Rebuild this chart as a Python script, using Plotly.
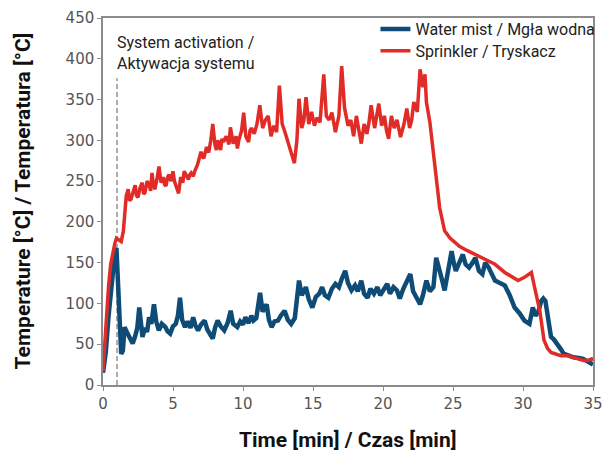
import plotly.graph_objects as go

# ---- data ----
sprinkler_t = [0, 0.1, 0.25, 0.4, 0.55, 0.7, 0.85, 0.96, 1.1, 1.3, 1.45, 1.55, 1.66, 1.8, 1.9, 2.0, 2.15, 2.3, 2.4,
               2.5, 2.65, 2.8, 2.9, 3.0, 3.15, 3.3, 3.4, 3.5, 3.6, 3.7, 3.85, 4.0, 4.15, 4.3, 4.4, 4.5, 4.6, 4.7,
               4.85, 5.0, 5.1, 5.2, 5.3, 5.4, 5.55, 5.7, 5.8, 5.9, 6.1, 6.2, 6.3, 6.45, 6.55, 6.75, 7.0, 7.1, 7.2,
               7.4, 7.55, 7.7, 7.84, 8.0, 8.1, 8.2, 8.4, 8.5, 8.6, 8.8, 9.0, 9.1, 9.3, 9.5, 9.6, 9.7, 9.9,
               10.05, 10.2, 10.4, 10.5, 10.6, 10.8, 11.0, 11.2, 11.4, 11.6, 11.8, 12.0, 12.2, 12.4, 12.6, 12.8, 13.0,
               13.2, 13.4, 13.67, 13.85, 14.0, 14.2, 14.35, 14.5, 14.7, 14.9, 15.1, 15.3, 15.5, 15.77, 15.95, 16.15,
               16.35, 16.6, 16.85, 17.05, 17.25, 17.5, 17.7, 17.9, 18.1, 18.3, 18.45, 18.65, 18.85, 19.0, 19.15,
               19.4, 19.55, 19.7, 19.9, 20.1, 20.25, 20.4, 20.6, 20.8, 21.0, 21.25, 21.5, 21.7, 21.9, 22.05, 22.2,
               22.45, 22.65, 22.85, 23.0, 23.1, 23.35, 23.7, 24.05, 24.4, 24.8, 25.2, 25.45, 26.0, 26.6, 27.3, 28.0,
               28.7, 29.2, 29.65, 30.1, 30.6, 30.8, 31.0, 31.2, 31.5, 31.75, 32.0, 32.4, 32.7, 33.2, 33.6, 34.0,
               34.3, 34.6, 34.9, 35]
sprinkler_temp = [17, 45, 88, 122, 148, 163, 174, 180, 178, 176, 188, 205, 232, 240, 226, 228, 238, 245, 232,
                  230, 242, 248, 234, 236, 250, 245, 238, 260, 246, 240, 252, 268, 248, 255, 246, 244, 254, 258,
                  250, 262, 250, 245, 240, 235, 255, 248, 262, 258, 252, 258, 260, 256, 262, 270, 286, 280, 278,
                  292, 285, 300, 320, 294, 288, 300, 288, 302, 298, 305, 295, 316, 296, 305, 290, 300, 312,
                  334, 305, 298, 312, 315, 308, 320, 343, 315, 325, 330, 305, 318, 310, 367, 320, 310,
                  298, 285, 272, 300, 351, 315, 325, 353, 320, 335, 318, 328, 322, 381, 330, 325,
                  334, 310, 330, 391, 340, 318, 325, 305, 330, 310, 296, 320, 308, 322, 343,
                  315, 330, 345, 318, 330, 312, 302, 330, 315, 325, 304, 320, 339, 315, 325, 347,
                  335, 387, 365, 381, 347, 322, 266, 217, 189, 180, 174, 170, 165, 160, 155, 148,
                  138, 133, 128, 132, 138, 122, 105, 91, 55, 45, 40, 38, 36, 36, 34, 31,
                  30, 30, 32, 30]

mist_t = [0, 0.2, 0.4, 0.55, 0.72, 0.85, 0.96, 1.07, 1.19, 1.3, 1.42, 1.54, 1.7, 1.89, 2.0, 2.12, 2.3, 2.45, 2.59, 2.7,
          2.82, 3.0, 3.15, 3.29, 3.45, 3.64, 3.8, 3.99, 4.2, 4.46, 4.6, 4.8, 5.0, 5.2, 5.35, 5.5, 5.65, 5.86, 6.05,
          6.25, 6.44, 6.6, 6.79, 7.0, 7.26, 7.45, 7.65, 7.84, 8.0, 8.19, 8.4, 8.66, 8.9, 9.12, 9.3, 9.59, 9.8, 10.0,
          10.17, 10.4, 10.6, 10.75, 10.95, 11.22, 11.4, 11.69, 11.85, 12.04, 12.25, 12.5, 12.7, 12.97, 13.2, 13.44,
          13.7, 14.0, 14.2, 14.49, 14.7, 14.95, 15.2, 15.45, 15.65, 15.85, 16.1, 16.35, 16.6, 16.85, 17.05, 17.3,
          17.5, 17.75, 18.0, 18.2, 18.45, 18.65, 18.9, 19.1, 19.35, 19.6, 19.8, 20.05, 20.3, 20.5, 20.75, 21.0,
          21.2, 21.45, 21.7, 21.95, 22.15, 22.4, 22.65, 22.85, 23.1, 23.35, 23.6, 23.8, 24.0, 24.2, 24.4, 24.65,
          24.9, 25.05, 25.2, 25.45, 25.7, 25.9, 26.15, 26.4, 26.6, 26.85, 27.1, 27.3, 27.55, 27.8, 28.0, 28.35,
          28.7, 29.05, 29.4, 29.75, 30.1, 30.46, 30.7, 30.9, 31.1, 31.3, 31.45, 31.6, 31.8, 32.0, 32.2, 32.45,
          32.7, 32.9, 33.2, 33.6, 34.0, 34.3, 34.6, 34.9, 35]
mist_temp = [15, 40, 85, 115, 142, 162, 168, 120, 51, 38, 42, 71, 65, 59, 55, 51, 60, 70, 95, 70,
             59, 70, 65, 83, 75, 99, 78, 67, 75, 71, 66, 63, 72, 75, 85, 107, 80, 71, 78,
             70, 83, 73, 67, 74, 79, 68, 62, 57, 70, 79, 72, 67, 76, 91, 75, 71, 78, 74,
             83, 76, 85, 79, 82, 113, 90, 99, 80, 71, 78, 79, 85, 91, 80, 75,
             82, 128, 110, 120, 105, 95, 108, 112, 120, 110, 107, 118, 124, 120, 130, 140,
             125, 116, 122, 115, 128, 112, 107, 118, 112, 120, 110, 118, 124, 112, 120, 116,
             106, 118, 128, 136, 115, 108, 99, 110, 128, 115, 120, 156, 140, 130, 116, 140,
             164, 150, 140, 150, 160, 148, 144, 150, 156, 140, 136, 150, 144, 135, 128, 125,
             122, 110, 95, 88, 79, 75, 95, 85, 90, 103, 106, 103, 80, 59, 56, 51,
             44, 38.5, 36, 34, 33, 32, 29, 26, 25]

activation_t = [1, 1]
activation_temp = [0, 376]

x_ticks = [0, 5, 10, 15, 20, 25, 30, 35]
y_ticks = [0, 50, 100, 150, 200, 250, 300, 350, 400, 450]

BLUE = "#0e4c77"
RED = "#e12b27"

fig = go.Figure()
fig.add_trace(go.Scatter(x=activation_t, y=activation_temp, mode="lines",
                         line=dict(color="#9a9a9a", width=1.6, dash="5px,3px"),
                         showlegend=False, hoverinfo="skip"))
fig.add_trace(go.Scatter(x=mist_t, y=mist_temp, mode="lines", name="Water mist / Mgła wodna",
                         line=dict(color=BLUE, width=4.5), legend="legend"))
fig.add_trace(go.Scatter(x=sprinkler_t, y=sprinkler_temp, mode="lines", name="Sprinkler / Tryskacz",
                         line=dict(color=RED, width=3.5), legend="legend2"))

axis_common = dict(showgrid=False, zeroline=False, showline=True, mirror=True,
                   linecolor="#8c8c8c", linewidth=1.5, ticks="outside", ticklen=4,
                   tickcolor="#8c8c8c", tickwidth=1.2,
                   tickfont=dict(family="DejaVu Sans", size=15, color="#555555"))

legend_common = dict(xanchor="left", yanchor="top", bgcolor="rgba(0,0,0,0)",
                     font=dict(family="Roboto", size=16, color="#222222"), itemwidth=30)

fig.update_layout(
    width=612, height=456,
    margin=dict(l=103, r=9, t=15, b=71),
    paper_bgcolor="white", plot_bgcolor="white",
    xaxis=dict(range=[0, 35], tickvals=x_ticks, ticktext=[str(v) for v in x_ticks], **axis_common),
    yaxis=dict(range=[0, 450], tickvals=y_ticks, ticktext=[str(v) for v in y_ticks], **axis_common),
    legend=dict(x=0.556, y=1.016, **legend_common),
    legend2=dict(x=0.556, y=0.957, **legend_common),
    showlegend=True,
    annotations=[
        dict(text="System activation /<br>Aktywacja systemu", xref="x", yref="y",
             x=1, y=440, xanchor="left", yanchor="top", xshift=-2, yshift=-5, showarrow=False, align="left",
             font=dict(family="Roboto", size=16, color="#222222")),
        dict(text="<b>Time [min] / Czas [min]</b>", xref="paper", yref="paper",
             x=0.5, y=0, yshift=-55, xanchor="center", yanchor="middle", showarrow=False,
             font=dict(family="Roboto", size=21, color="#111111")),
        dict(text="<b>Temperature [°C] / Temperatura [°C]</b>", xref="paper", yref="paper",
             x=0, y=0.5, xshift=-81, xanchor="center", yanchor="middle", textangle=-90,
             showarrow=False, font=dict(family="Roboto", size=21, color="#111111")),
    ],
)

fig.write_html("out.html")
